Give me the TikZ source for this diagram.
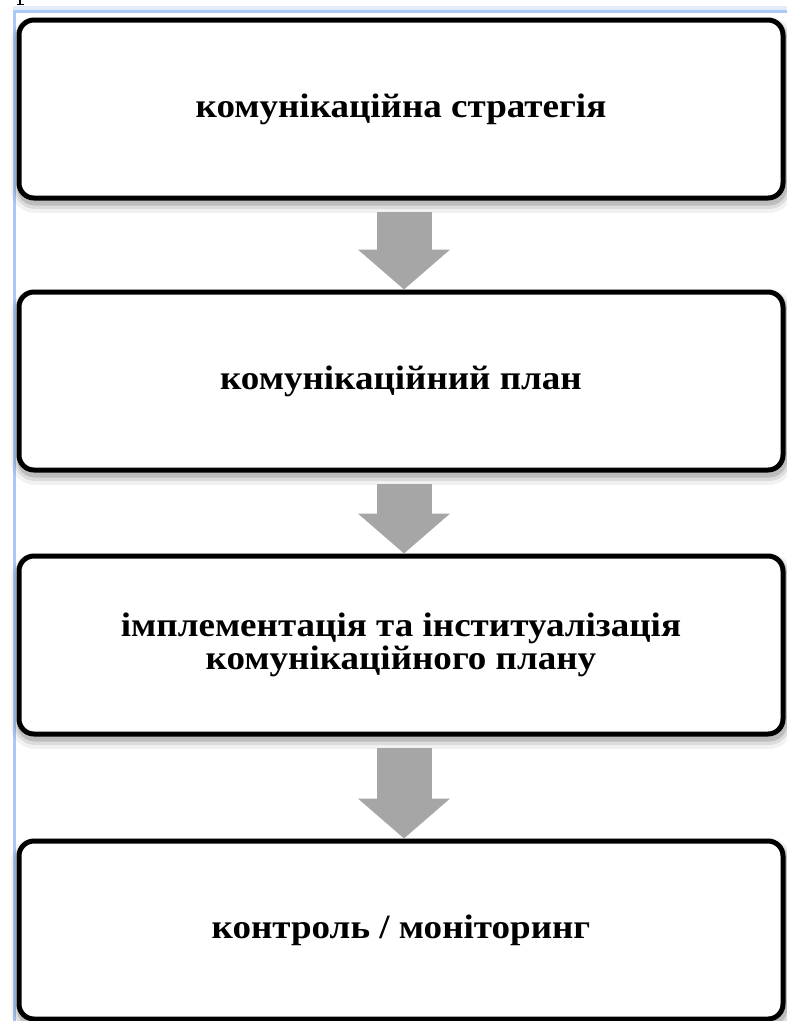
\documentclass[tikz,border=0pt]{standalone}
\usepackage{fontspec}
\setmainfont[FakeStretch=1.09]{Liberation Serif}
\usetikzlibrary{arrows.meta}
\definecolor{frameblue}{RGB}{172,200,245}
\definecolor{arrowgray}{RGB}{166,166,166}
\begin{document}
\begin{tikzpicture}[x=1pt,y=-1pt,
  stepbox/.style={draw=black, line width=5pt, rounded corners=15pt, fill=white,
    minimum width=764pt, minimum height=178pt, inner sep=0pt, align=center,
    font=\fontsize{34}{33}\selectfont\bfseries,
    preaction={draw=black,draw opacity=0.05,line width=18pt,transform canvas={xshift=1pt,yshift=-6pt}},
    preaction={draw=black,draw opacity=0.09,line width=12pt,transform canvas={xshift=1pt,yshift=-5pt}},
    preaction={draw=black,draw opacity=0.14,line width=7pt,transform canvas={xshift=1pt,yshift=-4pt}}},
  flowarrow/.style={draw=arrowgray, line width=55pt, -{Triangle[length=40pt,width=90pt]},
    shorten <=11pt},
]
\useasboundingbox (0,0) rectangle (787,1021);
\clip (0,0) rectangle (787,1021);
% page frame lines
\fill[frameblue!35] (13,6) rectangle (787,10);
\draw[frameblue, line width=3pt] (13,11.5) -- (787,11.5);
\draw[frameblue, line width=3pt] (14,10) -- (14,1021);
% fragment of a letter above the frame
\draw[line width=1.3pt] (20,0) -- (20,4);
\draw[line width=1pt] (16.5,4.3) -- (23.5,4.3);
% boxes
\node[stepbox] (b1) at (401,109) {комунікаційна стратегія};
\node[stepbox] (b2) at (401,381) {комунікаційний план};
\node[stepbox] (b3) at (401,645) {імплементація та інституалізація\\комунікаційного плану};
\node[stepbox] (b4) at (401,930) {контроль / моніторинг};
% arrows
\draw[flowarrow] ([xshift=3pt]b1.south) -- ([xshift=3pt]b2.north);
\draw[flowarrow] ([xshift=3pt]b2.south) -- ([xshift=3pt]b3.north);
\draw[flowarrow] ([xshift=3pt]b3.south) -- ([xshift=3pt]b4.north);
\end{tikzpicture}
\end{document}
